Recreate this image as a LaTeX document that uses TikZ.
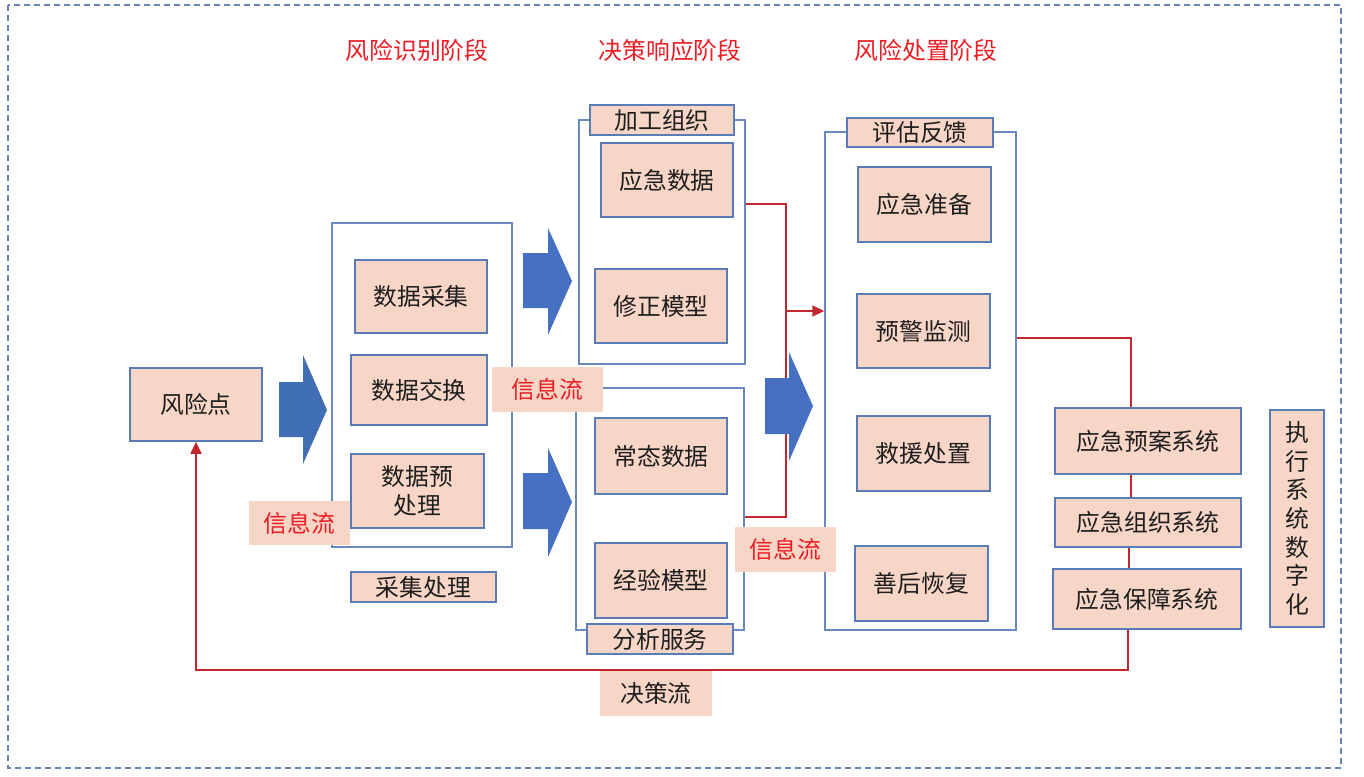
\documentclass[tikz,border=0pt]{standalone}
\usepackage{fontspec}
\setmainfont{Noto Sans CJK SC}
\usetikzlibrary{arrows.meta}
\definecolor{boxfill}{HTML}{F7D6C7}
\definecolor{boxdraw}{HTML}{5A7CB6}
\definecolor{contdraw}{HTML}{6A89C0}
\definecolor{flowred}{HTML}{C0282E}
\definecolor{titlered}{HTML}{EC1C24}
\definecolor{arrowblue}{HTML}{4670C2}
\definecolor{arrowblueb}{HTML}{3F6FB2}
\definecolor{borderblue}{HTML}{6583B8}
\definecolor{textc}{HTML}{1E1E1E}
\tikzset{
  cjkfont/.style={font=\fontsize{23.8}{28.6}\selectfont},
  sz/.style 2 args={minimum width=#1pt, minimum height=#2pt},
  box/.style={draw=boxdraw, line width=1.6pt, fill=boxfill, inner sep=0pt, cjkfont, text=textc, align=center},
  container/.style={draw=contdraw, line width=1.4pt, inner sep=0pt},
  flowlabel/.style={fill=boxfill, inner sep=0pt, cjkfont, text=titlered},
  declabel/.style={fill=boxfill, inner sep=0pt, cjkfont, text=textc},
  stagetitle/.style={cjkfont, text=titlered, inner sep=0pt},
  redline/.style={draw=flowred, line width=1.8pt},
  redarrow/.style={redline, -{Triangle[length=12pt,width=11pt]}},
  bigarrow/.style={fill=arrowblue, draw=none},
  frame/.style={draw=borderblue, line width=1.5pt, dash pattern=on 6pt off 4pt},
}
\begin{document}
\begin{tikzpicture}[x=1pt,y=-1pt]
\useasboundingbox (0,0) rectangle (1364,776);
\draw[frame] (8,5) rectangle (1341,768);

% stage titles
\node[stagetitle] (t1) at (417,50) {风险识别阶段};
\node[stagetitle] (t2) at (670,50) {决策响应阶段};
\node[stagetitle] (t3) at (926,50) {风险处置阶段};

% containers
\node[container, sz={180}{324}] (lc) at (422,385) {};
\node[container, sz={166}{244}] (tc) at (662,242) {};
\node[container, sz={168}{242}] (bc) at (660,509) {};
\node[container, sz={191}{498}] (rc) at (920.5,381) {};

% boxes
\node[box, sz={132}{73}] (fxd) at (196,404.5) {风险点};
\node[box, sz={132}{73}] (sjcj) at (421,296.5) {数据采集};
\node[box, sz={136}{70}] (sjjh) at (419,390) {数据交换};
\node[box, sz={133}{74}] (sjycl) at (417.5,491) {数据预\\处理};
\node[box, sz={145}{30}] (cjcl) at (423.5,587) {采集处理};

\node[box, sz={144}{30}] (jgzz) at (662,120) {加工组织};
\node[box, sz={132}{74}] (yjsj) at (667,180) {应急数据};
\node[box, sz={132}{74}] (xzmx) at (661,306) {修正模型};
\node[box, sz={132}{76}] (ctsj) at (661,456) {常态数据};
\node[box, sz={132}{75}] (jymx) at (661,580.5) {经验模型};
\node[box, sz={146}{30}] (fxfw) at (660,639) {分析服务};

\node[box, sz={146}{29}] (pgfk) at (920,132.5) {评估反馈};
\node[box, sz={133}{75}] (yjzb) at (924.5,204.5) {应急准备};
\node[box, sz={133}{74}] (yjjc) at (923.5,331) {预警监测};
\node[box, sz={133}{75}] (jycz) at (923.5,453.5) {救援处置};
\node[box, sz={133}{75}] (shhf) at (921.5,583.5) {善后恢复};

\node[box, sz={186}{66}] (yjya) at (1148,441) {应急预案系统};
\node[box, sz={186}{49}] (yjzz) at (1148,522.5) {应急组织系统};
\node[box, sz={188}{60}] (yjbz) at (1147,599) {应急保障系统};
\node[box, sz={54}{217}] (zxsz) at (1297,518.5) {执\\行\\系\\统\\数\\字\\化};

% red flow lines
\coordinate (j1) at (786,204);
\coordinate (j2) at (786,517);
\coordinate (j3) at (786,311);
\draw[redline] (j1 -| tc.east) -- (j1) -- (j2) -- (j2 -| bc.east);
\draw[redarrow] (j3) -- (j3 -| rc.west);

\coordinate (k1) at (1131,338);
\draw[redline] (k1 -| rc.east) -- (k1) -- (k1 |- yjya.north);
\draw[redline] (yjya.south -| k1) -- (yjzz.north -| k1);
\coordinate (k2) at (1129,560);
\draw[redline] (yjzz.south -| k2) -- (yjbz.north -| k2);
\coordinate (d1) at (1128,670);
\draw[redarrow] (yjbz.south -| d1) -- (d1) -| (fxd.south);

% big blue arrows
\fill[arrowblueb] (279,382) -- (303,382) -- (303,355) -- (327,410) -- (303,464) -- (303,437) -- (279,437) -- cycle;
\fill[arrowblue] (523,253) -- (548,253) -- (548,228) -- (572,281) -- (548,335) -- (548,308) -- (523,308) -- cycle;
\fill[arrowblue] (523,473) -- (548,473) -- (548,448) -- (572,502) -- (548,557) -- (548,529) -- (523,529) -- cycle;
\fill[arrowblue] (765,378) -- (789,378) -- (789,352) -- (813,406) -- (789,461) -- (789,434) -- (765,434) -- cycle;

% flow labels
\node[flowlabel, sz={101}{44}] (xxl1) at (299.5,523) {信息流};
\node[flowlabel, sz={111}{45}] (xxl2) at (547.5,389.5) {信息流};
\node[flowlabel, sz={101}{45}] (xxl3) at (785.5,549.5) {信息流};
\node[declabel, sz={112}{45}] (jcl) at (656,693.5) {决策流};
\end{tikzpicture}
\end{document}
